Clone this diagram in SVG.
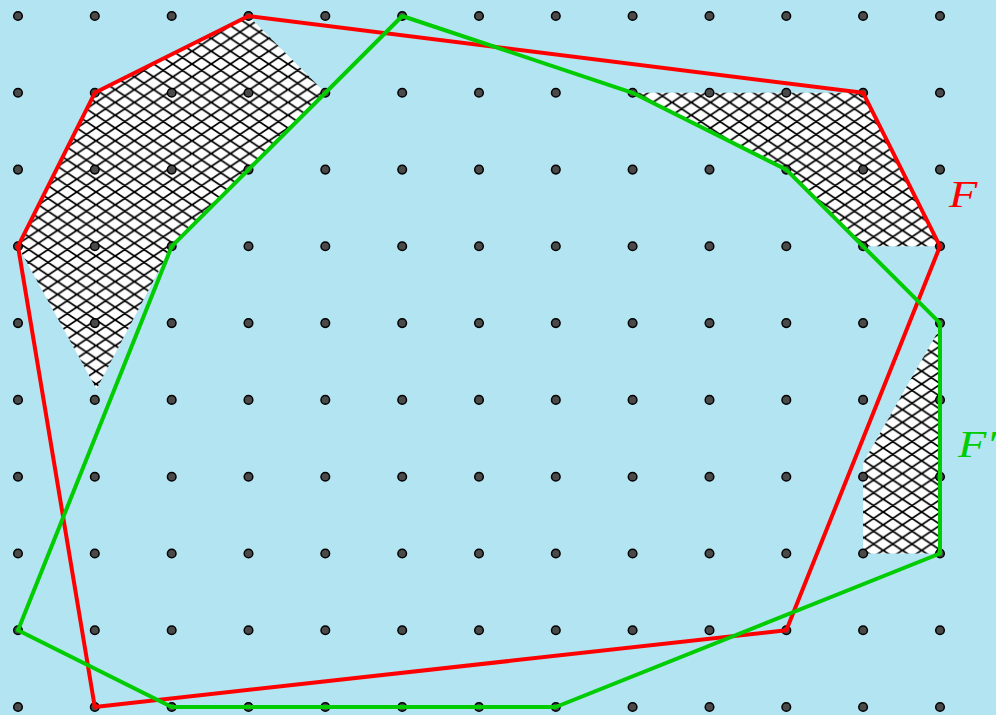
<svg xmlns="http://www.w3.org/2000/svg" width="996" height="715" viewBox="0 0 996 715">
<defs>
<pattern id="hatch" patternUnits="userSpaceOnUse" x="0" y="0" width="19.2" height="12.8">
<rect width="19.2" height="12.8" fill="#ffffff"/>
<path d="M0,0 L19.2,12.8 M0,12.8 L19.2,0 M-9.6,6.4 L0,12.8 M-9.6,6.4 L0,0 M19.2,0 L28.8,6.4 M19.2,12.8 L28.8,6.4" stroke="#000" stroke-width="1.8" fill="none"/>
</pattern>
<style>
.dot{fill:#4a4a4a;stroke:#000;stroke-width:1.5}
.hatch{fill:url(#hatch);stroke:none}
.edge{fill:none;stroke-width:4;stroke-linejoin:round}
.red{stroke:#ff0000}
.green{stroke:#00cc00}
.lbl{font-family:"Liberation Serif","DejaVu Serif",serif;font-style:italic;font-size:38px}
</style>
</defs>
<rect width="996" height="715" fill="#b3e4f2"/>
<g id="hatches">
<polygon class="hatch" points="18,246.3 94.8,92.8 248.5,16 325.3,92.8 171.7,246.3 96.5,389"/>
<polygon class="hatch" points="632.6,92.8 863.1,92.8 940,246.3 863.1,246.3 786.3,169.6"/>
<polygon class="hatch" points="940,328 940,553.5 863.1,553.5 863.1,463"/>
</g>
<g id="dots">
<circle class="dot" cx="18" cy="16" r="4.3"/><circle class="dot" cx="94.8" cy="16" r="4.3"/><circle class="dot" cx="171.7" cy="16" r="4.3"/><circle class="dot" cx="248.5" cy="16" r="4.3"/><circle class="dot" cx="325.3" cy="16" r="4.3"/><circle class="dot" cx="402.2" cy="16" r="4.3"/><circle class="dot" cx="479" cy="16" r="4.3"/><circle class="dot" cx="555.8" cy="16" r="4.3"/><circle class="dot" cx="632.6" cy="16" r="4.3"/><circle class="dot" cx="709.5" cy="16" r="4.3"/><circle class="dot" cx="786.3" cy="16" r="4.3"/><circle class="dot" cx="863.1" cy="16" r="4.3"/><circle class="dot" cx="940" cy="16" r="4.3"/>
<circle class="dot" cx="18" cy="92.8" r="4.3"/><circle class="dot" cx="94.8" cy="92.8" r="4.3"/><circle class="dot" cx="171.7" cy="92.8" r="4.3"/><circle class="dot" cx="248.5" cy="92.8" r="4.3"/><circle class="dot" cx="325.3" cy="92.8" r="4.3"/><circle class="dot" cx="402.2" cy="92.8" r="4.3"/><circle class="dot" cx="479" cy="92.8" r="4.3"/><circle class="dot" cx="555.8" cy="92.8" r="4.3"/><circle class="dot" cx="632.6" cy="92.8" r="4.3"/><circle class="dot" cx="709.5" cy="92.8" r="4.3"/><circle class="dot" cx="786.3" cy="92.8" r="4.3"/><circle class="dot" cx="863.1" cy="92.8" r="4.3"/><circle class="dot" cx="940" cy="92.8" r="4.3"/>
<circle class="dot" cx="18" cy="169.6" r="4.3"/><circle class="dot" cx="94.8" cy="169.6" r="4.3"/><circle class="dot" cx="171.7" cy="169.6" r="4.3"/><circle class="dot" cx="248.5" cy="169.6" r="4.3"/><circle class="dot" cx="325.3" cy="169.6" r="4.3"/><circle class="dot" cx="402.2" cy="169.6" r="4.3"/><circle class="dot" cx="479" cy="169.6" r="4.3"/><circle class="dot" cx="555.8" cy="169.6" r="4.3"/><circle class="dot" cx="632.6" cy="169.6" r="4.3"/><circle class="dot" cx="709.5" cy="169.6" r="4.3"/><circle class="dot" cx="786.3" cy="169.6" r="4.3"/><circle class="dot" cx="863.1" cy="169.6" r="4.3"/><circle class="dot" cx="940" cy="169.6" r="4.3"/>
<circle class="dot" cx="18" cy="246.3" r="4.3"/><circle class="dot" cx="94.8" cy="246.3" r="4.3"/><circle class="dot" cx="171.7" cy="246.3" r="4.3"/><circle class="dot" cx="248.5" cy="246.3" r="4.3"/><circle class="dot" cx="325.3" cy="246.3" r="4.3"/><circle class="dot" cx="402.2" cy="246.3" r="4.3"/><circle class="dot" cx="479" cy="246.3" r="4.3"/><circle class="dot" cx="555.8" cy="246.3" r="4.3"/><circle class="dot" cx="632.6" cy="246.3" r="4.3"/><circle class="dot" cx="709.5" cy="246.3" r="4.3"/><circle class="dot" cx="786.3" cy="246.3" r="4.3"/><circle class="dot" cx="863.1" cy="246.3" r="4.3"/><circle class="dot" cx="940" cy="246.3" r="4.3"/>
<circle class="dot" cx="18" cy="323.1" r="4.3"/><circle class="dot" cx="94.8" cy="323.1" r="4.3"/><circle class="dot" cx="171.7" cy="323.1" r="4.3"/><circle class="dot" cx="248.5" cy="323.1" r="4.3"/><circle class="dot" cx="325.3" cy="323.1" r="4.3"/><circle class="dot" cx="402.2" cy="323.1" r="4.3"/><circle class="dot" cx="479" cy="323.1" r="4.3"/><circle class="dot" cx="555.8" cy="323.1" r="4.3"/><circle class="dot" cx="632.6" cy="323.1" r="4.3"/><circle class="dot" cx="709.5" cy="323.1" r="4.3"/><circle class="dot" cx="786.3" cy="323.1" r="4.3"/><circle class="dot" cx="863.1" cy="323.1" r="4.3"/><circle class="dot" cx="940" cy="323.1" r="4.3"/>
<circle class="dot" cx="18" cy="399.9" r="4.3"/><circle class="dot" cx="94.8" cy="399.9" r="4.3"/><circle class="dot" cx="171.7" cy="399.9" r="4.3"/><circle class="dot" cx="248.5" cy="399.9" r="4.3"/><circle class="dot" cx="325.3" cy="399.9" r="4.3"/><circle class="dot" cx="402.2" cy="399.9" r="4.3"/><circle class="dot" cx="479" cy="399.9" r="4.3"/><circle class="dot" cx="555.8" cy="399.9" r="4.3"/><circle class="dot" cx="632.6" cy="399.9" r="4.3"/><circle class="dot" cx="709.5" cy="399.9" r="4.3"/><circle class="dot" cx="786.3" cy="399.9" r="4.3"/><circle class="dot" cx="863.1" cy="399.9" r="4.3"/><circle class="dot" cx="940" cy="399.9" r="4.3"/>
<circle class="dot" cx="18" cy="476.7" r="4.3"/><circle class="dot" cx="94.8" cy="476.7" r="4.3"/><circle class="dot" cx="171.7" cy="476.7" r="4.3"/><circle class="dot" cx="248.5" cy="476.7" r="4.3"/><circle class="dot" cx="325.3" cy="476.7" r="4.3"/><circle class="dot" cx="402.2" cy="476.7" r="4.3"/><circle class="dot" cx="479" cy="476.7" r="4.3"/><circle class="dot" cx="555.8" cy="476.7" r="4.3"/><circle class="dot" cx="632.6" cy="476.7" r="4.3"/><circle class="dot" cx="709.5" cy="476.7" r="4.3"/><circle class="dot" cx="786.3" cy="476.7" r="4.3"/><circle class="dot" cx="863.1" cy="476.7" r="4.3"/><circle class="dot" cx="940" cy="476.7" r="4.3"/>
<circle class="dot" cx="18" cy="553.5" r="4.3"/><circle class="dot" cx="94.8" cy="553.5" r="4.3"/><circle class="dot" cx="171.7" cy="553.5" r="4.3"/><circle class="dot" cx="248.5" cy="553.5" r="4.3"/><circle class="dot" cx="325.3" cy="553.5" r="4.3"/><circle class="dot" cx="402.2" cy="553.5" r="4.3"/><circle class="dot" cx="479" cy="553.5" r="4.3"/><circle class="dot" cx="555.8" cy="553.5" r="4.3"/><circle class="dot" cx="632.6" cy="553.5" r="4.3"/><circle class="dot" cx="709.5" cy="553.5" r="4.3"/><circle class="dot" cx="786.3" cy="553.5" r="4.3"/><circle class="dot" cx="863.1" cy="553.5" r="4.3"/><circle class="dot" cx="940" cy="553.5" r="4.3"/>
<circle class="dot" cx="18" cy="630.2" r="4.3"/><circle class="dot" cx="94.8" cy="630.2" r="4.3"/><circle class="dot" cx="171.7" cy="630.2" r="4.3"/><circle class="dot" cx="248.5" cy="630.2" r="4.3"/><circle class="dot" cx="325.3" cy="630.2" r="4.3"/><circle class="dot" cx="402.2" cy="630.2" r="4.3"/><circle class="dot" cx="479" cy="630.2" r="4.3"/><circle class="dot" cx="555.8" cy="630.2" r="4.3"/><circle class="dot" cx="632.6" cy="630.2" r="4.3"/><circle class="dot" cx="709.5" cy="630.2" r="4.3"/><circle class="dot" cx="786.3" cy="630.2" r="4.3"/><circle class="dot" cx="863.1" cy="630.2" r="4.3"/><circle class="dot" cx="940" cy="630.2" r="4.3"/>
<circle class="dot" cx="18" cy="707" r="4.3"/><circle class="dot" cx="94.8" cy="707" r="4.3"/><circle class="dot" cx="171.7" cy="707" r="4.3"/><circle class="dot" cx="248.5" cy="707" r="4.3"/><circle class="dot" cx="325.3" cy="707" r="4.3"/><circle class="dot" cx="402.2" cy="707" r="4.3"/><circle class="dot" cx="479" cy="707" r="4.3"/><circle class="dot" cx="555.8" cy="707" r="4.3"/><circle class="dot" cx="632.6" cy="707" r="4.3"/><circle class="dot" cx="709.5" cy="707" r="4.3"/><circle class="dot" cx="786.3" cy="707" r="4.3"/><circle class="dot" cx="863.1" cy="707" r="4.3"/><circle class="dot" cx="940" cy="707" r="4.3"/>
</g>
<g id="F">
<polygon class="edge red" points="248.5,16 863.1,92.8 940,246.3 786.3,630.2 94.8,707 18,246.3 94.8,92.8"/>
<text class="lbl" transform="translate(949,207) scale(1.22,1)" x="0" y="0" fill="#ff0000">F</text>
</g>
<g id="F-prime">
<polygon class="edge green" points="402.2,16 632.6,92.8 786.3,169.6 940,323.1 940,553.5 555.8,707 171.7,707 18,630.2 171.7,246.3"/>
<text class="lbl" transform="translate(958,457) scale(1.22,1)" x="0" y="0" fill="#00cc00">F′</text>
</g>
</svg>
